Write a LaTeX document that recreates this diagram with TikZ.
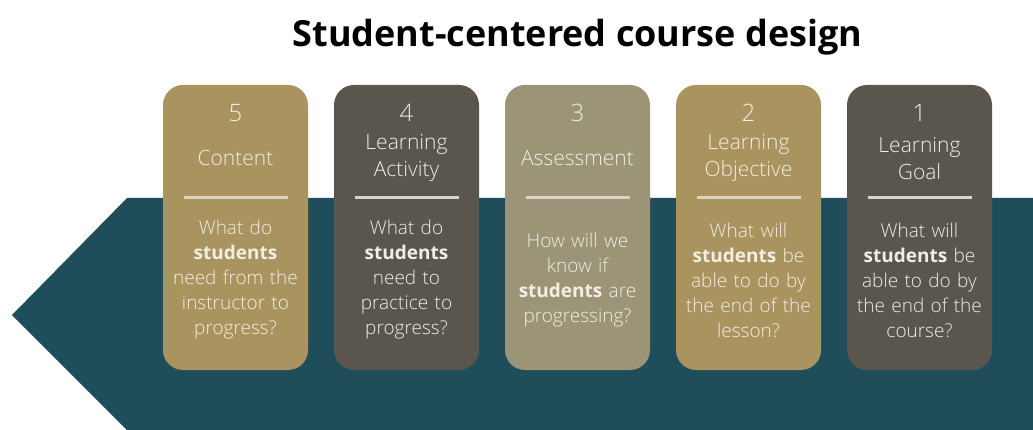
\documentclass[tikz,border=0pt]{standalone}
\usepackage{fontspec}
\setmainfont{Open Sans}
\IfFontExistsTF{Open Sans Light}{\newfontfamily\cardfont{Open Sans Light}[BoldFont={Open Sans Bold}]}{\newfontfamily\cardfont{Open Sans}}
\usepackage{tikz}
\usetikzlibrary{matrix,backgrounds}
\definecolor{bandteal}{HTML}{1F4E5A}
\definecolor{cardgold}{HTML}{A9935F}
\definecolor{carddark}{HTML}{5A554D}
\definecolor{cardolive}{HTML}{9B9477}
\definecolor{cardtext}{HTML}{F2EEE4}
\definecolor{cardrule}{HTML}{DAD4C6}

\begin{document}
\begin{tikzpicture}[x=1pt, y=-1pt,
plan/.style={matrix of nodes, nodes={inner sep=0pt, outer sep=0pt, text width=145pt,
    align=center, anchor=center, text=cardtext}, column sep=26pt, row sep=0pt, inner sep=0pt,
row 1/.style={nodes={minimum height=40pt, font=\cardfont\fontsize{24}{28}\selectfont}},
row 2/.style={nodes={minimum height=50pt, font=\cardfont\fontsize{21}{27}\selectfont}},
row 3/.style={nodes={minimum height=160pt, font=\cardfont\fontsize{19}{25}\selectfont}}},
rule/.style={draw=cardrule, line width=3pt},
heading/.style={font=\fontsize{36}{40}\selectfont\bfseries, inner sep=0pt}]
\useasboundingbox (0,0) rectangle (1033,430);
\node[heading, anchor=base] (head) at (577.5,47) {Student-centered course design};
\matrix[plan] (plan) at (577.5,226.5) {
5 & 4 & 3 & 2 & 1 \\
Content & {Learning\\Activity} & Assessment & {Learning\\Objective} & {Learning\\Goal} \\[17pt]
{What do\\\textbf{students}\\need from the\\instructor to\\progress?} &
{What do\\\textbf{students}\\need to\\practice to\\progress?} &
{How will we\\know if\\\textbf{students} are\\progressing?} &
{What will\\\textbf{students} be\\able to do by\\the end of the\\lesson?} &
{What will\\\textbf{students} be\\able to do by\\the end of the\\course?} \\};
\begin{scope}[on background layer]
\fill[white] (0,0) rectangle (1033,430);
\fill[bandteal] (12,315) -- (127,198) -- (1033,198) -- (1033,430) -- (127,430) -- cycle;
\fill[cardgold, rounded corners=20pt] ([yshift=8pt]plan-1-1.north west) rectangle ([yshift=-10pt]plan-3-1.south east);
\fill[carddark, rounded corners=20pt] ([yshift=8pt]plan-1-2.north west) rectangle ([yshift=-10pt]plan-3-2.south east);
\fill[cardolive, rounded corners=20pt] ([yshift=8pt]plan-1-3.north west) rectangle ([yshift=-10pt]plan-3-3.south east);
\fill[cardgold, rounded corners=20pt] ([yshift=8pt]plan-1-4.north west) rectangle ([yshift=-10pt]plan-3-4.south east);
\fill[carddark, rounded corners=20pt] ([yshift=8pt]plan-1-5.north west) rectangle ([yshift=-10pt]plan-3-5.south east);
\draw[rule] ([xshift=-52pt,yshift=2pt]plan-3-1.north) -- ([xshift=52pt,yshift=2pt]plan-3-1.north);
\draw[rule] ([xshift=-52pt,yshift=2pt]plan-3-2.north) -- ([xshift=52pt,yshift=2pt]plan-3-2.north);
\draw[rule] ([xshift=-52pt,yshift=2pt]plan-3-3.north) -- ([xshift=52pt,yshift=2pt]plan-3-3.north);
\draw[rule] ([xshift=-52pt,yshift=2pt]plan-3-4.north) -- ([xshift=52pt,yshift=2pt]plan-3-4.north);
\draw[rule] ([xshift=-52pt,yshift=2pt]plan-3-5.north) -- ([xshift=52pt,yshift=2pt]plan-3-5.north);
\end{scope}
\end{tikzpicture}
\end{document}
